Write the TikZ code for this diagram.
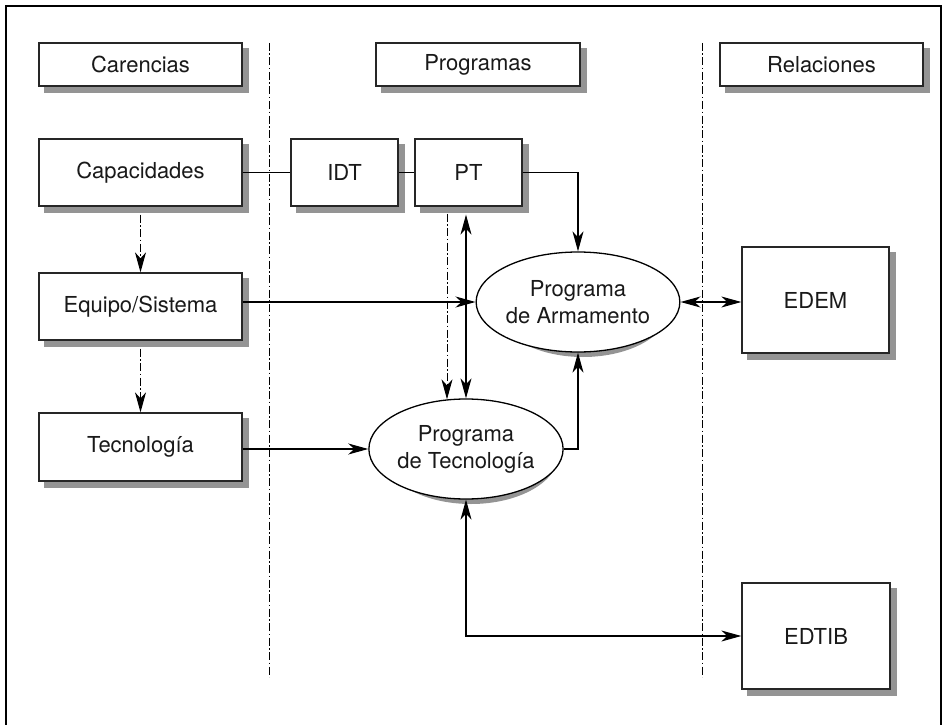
\documentclass[tikz,border=0pt]{standalone}
\usepackage{fontspec}
\setmainfont{TeX Gyre Heros}
\usetikzlibrary{shapes.geometric,arrows.meta,calc,backgrounds}
\begin{document}
\begin{tikzpicture}[x=1pt,y=-1pt,
  >={Stealth[length=20pt,width=11pt,inset=6pt]},
  every node/.style={font=\fontsize{22}{27}\selectfont, text=black!90},
  box/.style={draw=black!85, line width=1.3pt, fill=white, rectangle, inner sep=0pt},
  ell/.style={draw=black, line width=1.3pt, fill=white, ellipse, inner sep=0pt, align=center},
  shadowfill/.style={fill=black!42, draw=none},
  conn/.style={line width=1.2pt, draw=black},
  dd/.style={line width=1pt, draw=black, dash pattern=on 8pt off 2.5pt on 1.5pt off 2.5pt}
]
\useasboundingbox (0,0) rectangle (943,725);
% frame
\draw[line width=2.5pt] (6,730) -- (6,6) -- (941,6) -- (941,730);
% dividers
\draw[dd] (269,43) -- (269,677);
\draw[dd] (702,43) -- (702,677);
% headers
\node[box, minimum width=203pt, minimum height=43pt] (car) at (140.5,64.5) {Carencias};
\node[box, minimum width=204pt, minimum height=43pt] (prog) at (478,64.5) {Programas};
\node[box, minimum width=203pt, minimum height=43pt] (rel) at (821.5,64.5) {Relaciones};
% left column
\node[box, minimum width=203pt, minimum height=67pt] (cap) at (140.5,172.5) {Capacidades};
\node[box, minimum width=203pt, minimum height=67pt] (equ) at (140.5,306.5) {Equipo/Sistema};
\node[box, minimum width=203pt, minimum height=68pt] (tecb) at (140.5,447) {Tecnología};
% middle
\node[box, minimum width=107pt, minimum height=67pt] (idt) at (344.5,172.5) {IDT};
\node[box, minimum width=107pt, minimum height=67pt] (pt) at (468.5,172.5) {PT};
\node[ell, minimum width=174pt, minimum height=100pt] (arm) at (578,302) {Programa\\de Armamento};
\node[ell, minimum width=175pt, minimum height=100pt] (tec) at (466,449) {Programa\\de Tecnología};
% right
\node[box, minimum width=147pt, minimum height=106pt] (edem) at (815.5,300) {EDEM};
\node[box, minimum width=148pt, minimum height=106pt] (edtib) at (816,636) {EDTIB};
% shadows
\begin{scope}[on background layer]
  \foreach \n in {car,prog,rel,cap,equ,tecb,idt,pt,edem,edtib}
    \fill[shadowfill] ($(\n.north west)+(6,6)$) rectangle ($(\n.south east)+(6,6)$);
  \fill[shadowfill] ($(arm.center)+(5,5)$) ellipse [x radius=87, y radius=50];
  \fill[shadowfill] ($(tec.center)+(5,5)$) ellipse [x radius=87.5, y radius=50];
\end{scope}
% connectors
\draw[conn] (cap.east) -- (idt.west);
\draw[conn] (idt.east) -- (pt.west);
\draw[conn,->] (pt.east) -| (arm.north);
\draw[dd,->] ($(cap.south)+(0,8)$) -- (equ.north);
\draw[dd,->] ($(equ.south)+(0,8)$) -- (tecb.north);
\draw[conn,->] (equ.east |- arm.west) -- (arm.west);
\draw[conn,->] (tecb.east |- tec.west) -- (tec.west);
\draw[dd,->] ($(pt.south)+(-21.5,7)$) -- ($(tec.north)+(-19,1)$);
\draw[conn,<->] ($(tec.north |- pt.south)+(0,8)$) -- (tec.north);
\draw[conn,->] (tec.east) -| (arm.south);
\draw[conn,<->] (arm.east) -- (edem.west |- arm.east);
\draw[conn,<->] (tec.south) |- (edtib.west);
\end{tikzpicture}
\end{document}
